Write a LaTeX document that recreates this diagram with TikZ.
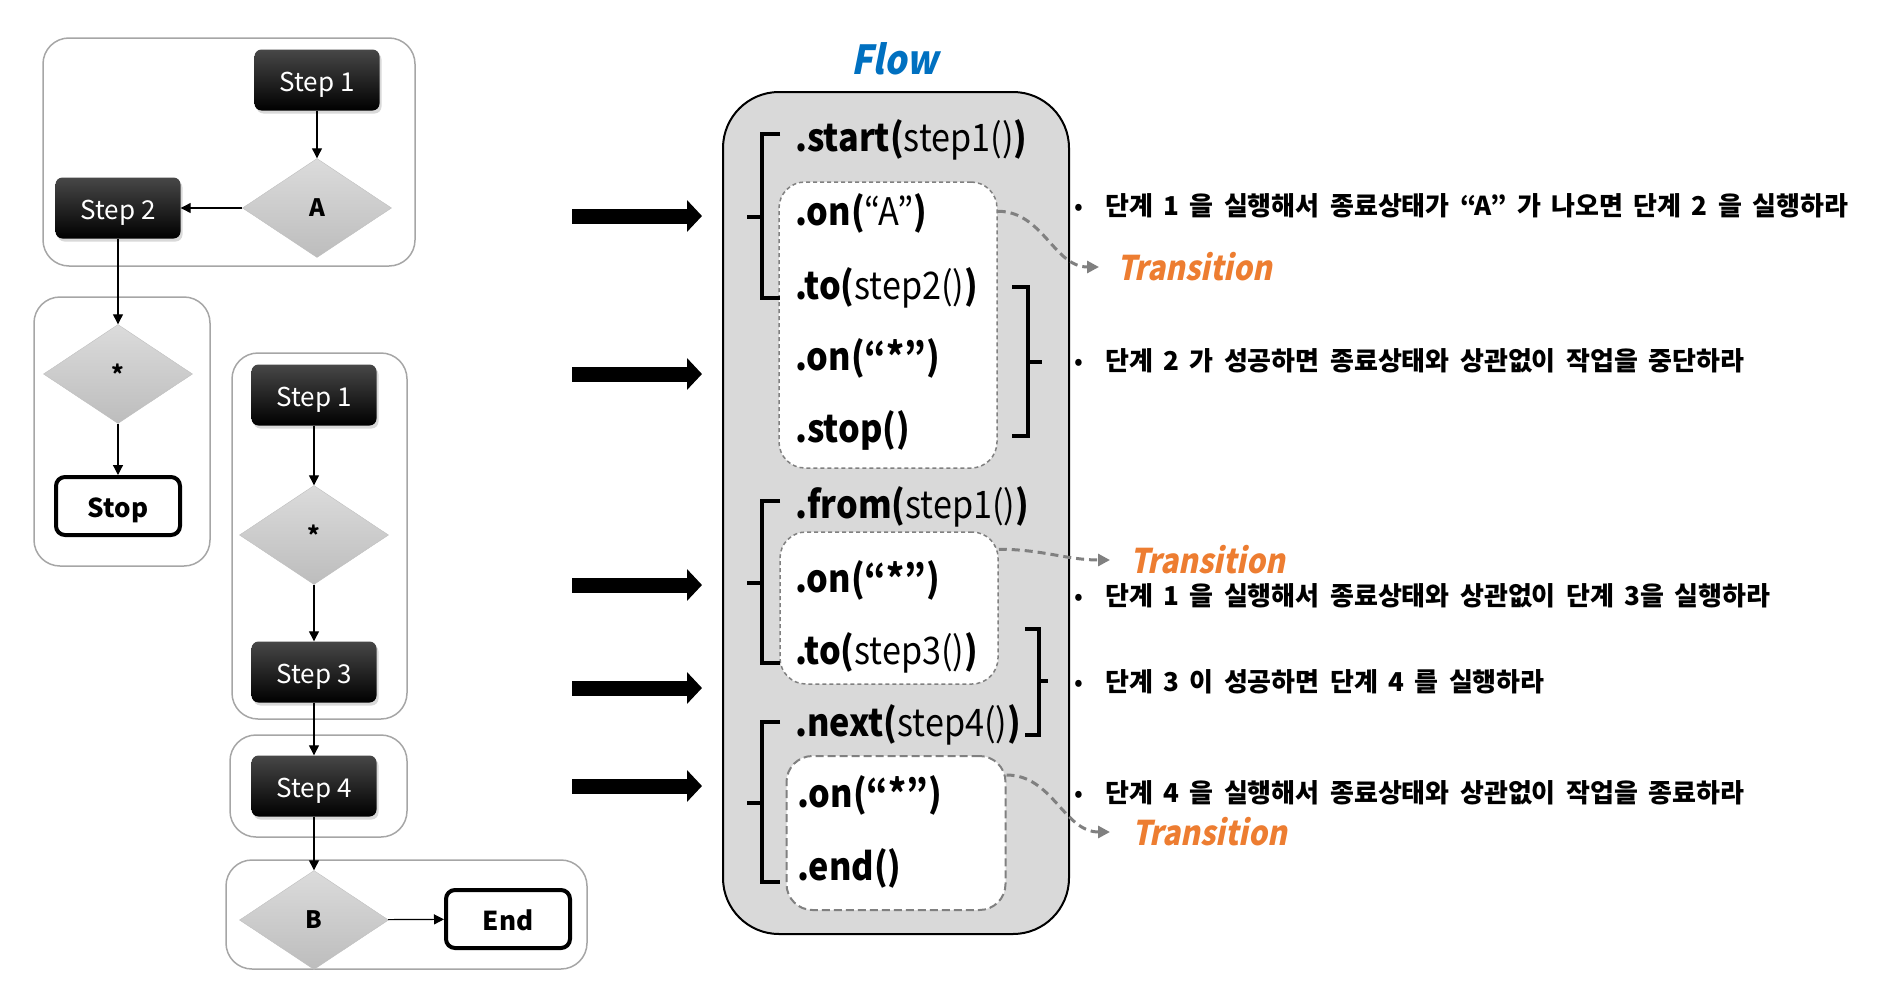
\documentclass[tikz,border=0pt]{standalone}
\usepackage{fontspec}
\setmainfont{Noto Sans CJK KR}
\newfontfamily\codefont{Noto Sans CJK KR}[FakeStretch=0.9]
\newfontfamily\slantfont{Noto Sans CJK KR}[FakeSlant=0.2,FakeStretch=0.88]
\newfontfamily\notefont{Noto Sans CJK KR}[WordSpace=1.75]
\usetikzlibrary{shapes.geometric,arrows.meta,shadows}
\definecolor{flowblue}{HTML}{0070C0}
\definecolor{transorange}{HTML}{ED7D31}
\definecolor{panelgray}{HTML}{D9D9D9}
\definecolor{framegray}{HTML}{A6A6A6}
\definecolor{dashgray}{HTML}{808080}
\begin{document}
\begin{tikzpicture}
[x=1pt,y=-1pt,
 stepdecorate/.style={shape=rectangle,rounded corners=7pt,top color=black!72,bottom color=black,
   text=white,minimum width=125pt,minimum height=61pt,text height=24pt,text depth=2pt,
   font=\fontsize{26}{28}\selectfont,
   drop shadow={shadow xshift=2pt,shadow yshift=-3pt,opacity=0.3}},%
 decidedecorate/.style={shape=diamond,draw=black!25,top color=black!14,bottom color=black!26,
   minimum width=149pt,minimum height=99pt,inner sep=0pt,font=\bfseries\fontsize{24}{26}\selectfont},%
 enddecorate/.style={shape=rectangle,rounded corners=9pt,draw,line width=4pt,fill=white,
   minimum width=124pt,minimum height=58pt,text height=24pt,text depth=2pt,
   font=\bfseries\fontsize{26}{28}\selectfont},%
 framedecorate/.style={draw=framegray,line width=1.5pt,rounded corners=26pt},%
 linedecorate/.style={-{Triangle[length=10pt,width=10pt]},line width=1.2pt},%
 bigarrowdecorate/.style={-{Triangle[length=15pt,width=31pt]},line width=15pt},%
 paneldecorate/.style={shape=rectangle,draw,line width=2pt,fill=panelgray,rounded corners=56pt},%
 whitedecorate/.style={shape=rectangle,draw=dashgray,fill=white,line width=1.5pt,
   dash pattern=on 4pt off 3pt,rounded corners=26pt},%
 bracedecorate/.style={line width=4pt},%
 codedecorate/.style={anchor=west,inner sep=0pt,font=\codefont\fontsize{38}{40}\selectfont},%
 transdecorate/.style={draw=dashgray,line width=3pt,dash pattern=on 8pt off 5pt,
   -{Triangle[length=12pt,width=12pt]}},%
 transtextdecorate/.style={anchor=west,inner sep=0pt,text=transorange,
   font=\slantfont\bfseries\fontsize{34}{36}\selectfont},%
 notedecorate/.style={anchor=west,inner sep=0pt,font=\notefont\bfseries\fontsize{26}{28}\selectfont}]
\useasboundingbox (0,0) rectangle (1892,1001);
%% frames around the flow chart parts
\draw[framedecorate] (43,38) rectangle (415,266);
\draw[framedecorate] (34,297) rectangle (210,566);
\draw[framedecorate] (232,353) rectangle (407,719);
\draw[framedecorate] (230,735) rectangle (407,837);
\draw[framedecorate] (226,860) rectangle (587,969);
%% steps, decisions and ends
\foreach \nodename/\x/\y/\caption in {StepOneA/317/80/Step 1, StepTwo/118/208/Step 2,
  StepOneB/314/395/Step 1, StepThree/314/672/Step 3, StepFour/314/786/Step 4}
{
  \node (\nodename) at (\x,\y) [stepdecorate] {\caption};
}
\foreach \nodename/\x/\y/\caption in {DecisionA/317/208/A, StarOne/118/374/*,
  StarTwo/314/535/*, DecisionB/314/920/B}
{
  \node (\nodename) at (\x,\y) [decidedecorate] {\caption};
}
\node (Stop) at (118,506) [enddecorate] {Stop};
\node (End) at (508,919) [enddecorate] {End};
%% edges of the flow chart
\path
\foreach \startnode/\endnode in {StepOneA/DecisionA, DecisionA/StepTwo, StepTwo/StarOne,
  StarOne/Stop, StepOneB/StarTwo, StarTwo/StepThree, StepThree/StepFour,
  StepFour/DecisionB, DecisionB/End}
{
  (\startnode) edge[linedecorate] (\endnode)
};
%% big arrows
\foreach \i/\y in {1/216, 2/374, 3/585, 4/688, 5/786}
{
  \coordinate (BigStart\i) at (572,\y);
  \coordinate (BigEnd\i) at (702,\y);
  \draw[bigarrowdecorate] (BigStart\i) -- (BigEnd\i);
}
%% flow panel
\node (FlowTitle) at (895,59) [text=flowblue,font=\slantfont\bfseries\fontsize{40}{42}\selectfont] {Flow};
\node (FlowPanel) at (896,513) [paneldecorate,minimum width=346pt,minimum height=842pt] {};
\node (WhiteBoxA) at (888,325) [whitedecorate,minimum width=218pt,minimum height=286pt] {};
\node (WhiteBoxB) at (889,608) [whitedecorate,minimum width=218pt,minimum height=152pt] {};
\node (WhiteBoxC) at (896,833) [whitedecorate,minimum width=219pt,minimum height=154pt,
  line width=2pt,dash pattern=on 8pt off 4pt] {};
%% brackets
\draw[bracedecorate] (780,134) -- (762,134) -- (762,298) -- (780,298) (762,217) -- (747,217);
\draw[bracedecorate] (780,501) -- (762,501) -- (762,663) -- (780,663) (762,583) -- (747,583);
\draw[bracedecorate] (780,722) -- (762,722) -- (762,882) -- (780,882) (762,803) -- (747,803);
\draw[bracedecorate] (1012,287) -- (1028,287) -- (1028,436) -- (1012,436) (1028,362) -- (1042,362);
\draw[bracedecorate] (1025,629) -- (1039,629) -- (1039,735) -- (1025,735) (1039,681) -- (1048,681);
%% code lines
\foreach \nodename/\x/\y/\code in {
  CodeStart/795/140/{\textbf{.start(}step1()\textbf{)}},
  CodeOnA/795/213/{\textbf{.on(}“A”\textbf{)}},
  CodeToTwo/795/288/{\textbf{.to(}step2()\textbf{)}},
  CodeOnB/795/358/{\textbf{.on(“*”)}},
  CodeStop/795/430/{\textbf{.stop()}},
  CodeFrom/795/507/{\textbf{.from(}step1()\textbf{)}},
  CodeOnC/795/580/{\textbf{.on(“*”)}},
  CodeToThree/795/653/{\textbf{.to(}step3()\textbf{)}},
  CodeNext/795/725/{\textbf{.next(}step4()\textbf{)}},
  CodeOnD/797/795/{\textbf{.on(“*”)}},
  CodeEnd/797/868/{\textbf{.end()}}}
{
  \node (\nodename) at (\x,\y) [codedecorate] {\code};
}
%% transitions
\node (TransA) at (1117,267) [transtextdecorate] {Transition};
\node (TransB) at (1130,560) [transtextdecorate] {Transition};
\node (TransC) at (1132,832) [transtextdecorate] {Transition};
\draw[transdecorate] ([yshift=-30pt]WhiteBoxA.north east) to[out=0,in=180] ([xshift=-18pt]TransA.west);
\draw[transdecorate] ([yshift=-18pt]WhiteBoxB.north east) to[out=0,in=180] ([xshift=-20pt]TransB.west);
\draw[transdecorate] ([yshift=-20pt]WhiteBoxC.north east) to[out=0,in=180] ([xshift=-22pt]TransC.west);
%% notes
\foreach \nodename/\y/\note in {
  NoteA/206/{단계 1 을 실행해서 종료상태가 “A” 가 나오면 단계 2 을 실행하라},
  NoteB/361/{단계 2 가 성공하면 종료상태와 상관없이 작업을 중단하라},
  NoteC/596/{단계 1 을 실행해서 종료상태와 상관없이 단계 3을 실행하라},
  NoteD/682/{단계 3 이 성공하면 단계 4 를 실행하라},
  NoteE/793/{단계 4 을 실행해서 종료상태와 상관없이 작업을 종료하라}}
{
  \node (\nodename) at (1074,\y) [notedecorate] {\makebox[31pt][l]{\mdseries •}\note};
}
\end{tikzpicture}
\end{document}
